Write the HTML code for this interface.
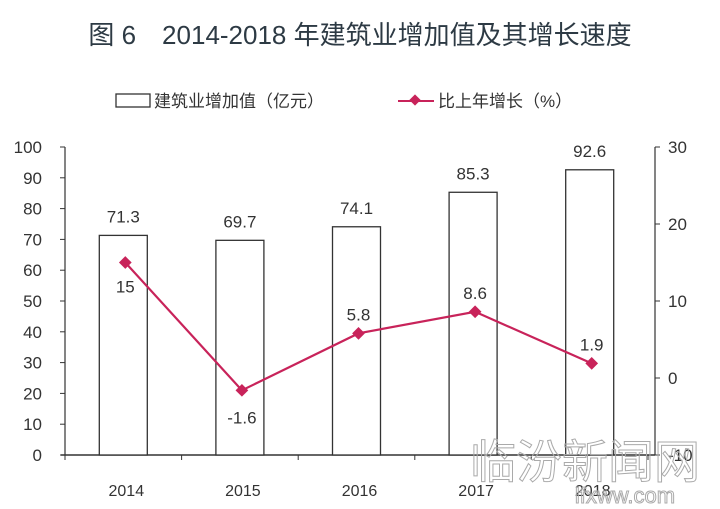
<!DOCTYPE html>
<html><head><meta charset="utf-8"><style>
body{margin:0;background:#fff;}
svg{display:block;font-family:"Liberation Sans","Noto Sans CJK SC",sans-serif;}
</style></head><body>
<svg id="c" width="720" height="509">
<text x="360" y="44" text-anchor="middle" font-size="26" fill="#2d3a44">图 6　2014-2018 年建筑业增加值及其增长速度</text>
<g>
<rect x="116" y="94" width="34" height="13" fill="#fff" stroke="#333" stroke-width="1.3"/>
<text x="154" y="107" font-size="17" fill="#333">建筑业增加值（亿元）</text>
<line x1="398" y1="101" x2="434" y2="101" stroke="#c8235a" stroke-width="2"/>
<rect x="411" y="96" width="8" height="8" fill="#c8235a" transform="rotate(45 415 100)"/>
<text x="438" y="107" font-size="17" fill="#333">比上年增长（%）</text>
</g>
<g id="axes"></g><g id="bars"></g><g id="line"></g>
<text x="585" y="478" font-size="46" fill="none" stroke="#aaa" stroke-width="1" text-anchor="middle">临汾新闻网</text>
<text x="625" y="503" font-size="22" fill="none" stroke="#aaa" stroke-width="1" text-anchor="middle">lfxww.com</text>
</svg>
<script>
const categories=["2014","2015","2016","2017","2018"];
const barValues=[71.3,69.7,74.1,85.3,92.6];
const growthValues=[15,-1.6,5.8,8.6,1.9];
const leftTicks=[0,10,20,30,40,50,60,70,80,90,100];
const rightTicks=[-10,0,10,20,30];
const NS="http://www.w3.org/2000/svg";
const X0=65,X1=648,Y0=455,Y1=147;
const step=(X1-X0)/categories.length;
const xc=i=>X0+step*(i+0.5);
const yL=v=>Y0-(v/100)*(Y0-Y1);
const yR=v=>Y0-((v+10)/40)*(Y0-Y1);
function mk(tag,attrs,parent,txt){const e=document.createElementNS(NS,tag);for(const k in attrs)e.setAttribute(k,attrs[k]);if(txt!==undefined)e.textContent=txt;document.getElementById(parent).appendChild(e);return e;}
// axes
let e=mk('line',{x1:X0,y1:Y1,x2:X0,y2:Y0,stroke:'#333','stroke-width':1.2},'axes');


e=mk('line',{x1:X1+7,y1:Y1,x2:X1+7,y2:Y0,stroke:'#333','stroke-width':1.2},'axes');


e=mk('line',{x1:X0-4,y1:Y0,x2:X1+7,y2:Y0,stroke:'#333','stroke-width':1.5},'axes');


leftTicks.forEach(v=>{mk('line',{x1:X0-5,y1:yL(v),x2:X0,y2:yL(v),stroke:'#333'},'axes');
const t=mk('text',{x:42,y:yL(v)+6,'font-size':17,'text-anchor':'end',fill:'#333'},'axes',v);

});
rightTicks.forEach(v=>{mk('line',{x1:X1+7,y1:yR(v),x2:X1+12,y2:yR(v),stroke:'#333'},'axes');
const t=mk('text',{x:668,y:yR(v)+6,'font-size':17,fill:'#333'},'axes',v);

});
for(let i=0;i<=categories.length;i++)mk('line',{x1:X0+step*i,y1:Y0,x2:X0+step*i,y2:Y0+5,stroke:'#333'},'axes');
categories.forEach((c,i)=>{const t=mk('text',{x:xc(i)+3,y:496,'font-size':16,'text-anchor':'middle',fill:'#333'},'axes',c);

});
// bars
barValues.forEach((v,i)=>{const b=mk('rect',{x:xc(i)-24,y:yL(v),width:48,height:Y0-yL(v),fill:'#fff',stroke:'#333','stroke-width':1.3},'bars');


const t=mk('text',{x:xc(i),y:yL(v)-13,'font-size':17,'text-anchor':'middle',fill:'#333'},'bars',v);

});
// line
const pts=growthValues.map((v,i)=>(xc(i)+2)+','+yR(v)).join(' ');
const pl=mk('polyline',{points:pts,fill:'none',stroke:'#c8235a','stroke-width':2.2},'line');


growthValues.forEach((v,i)=>{const x=xc(i)+2,y=yR(v);
const m=mk('rect',{x:x-4.5,y:y-4.5,width:9,height:9,fill:'#c8235a',transform:`rotate(45 ${x} ${y})`},'line');


const below=(i===0||i===1);
const t=mk('text',{x:x,y:below?y+(i===0?30:33):y-13,'font-size':17,'text-anchor':'middle',fill:'#333'},'line',v);

});
</script>
</body></html>
